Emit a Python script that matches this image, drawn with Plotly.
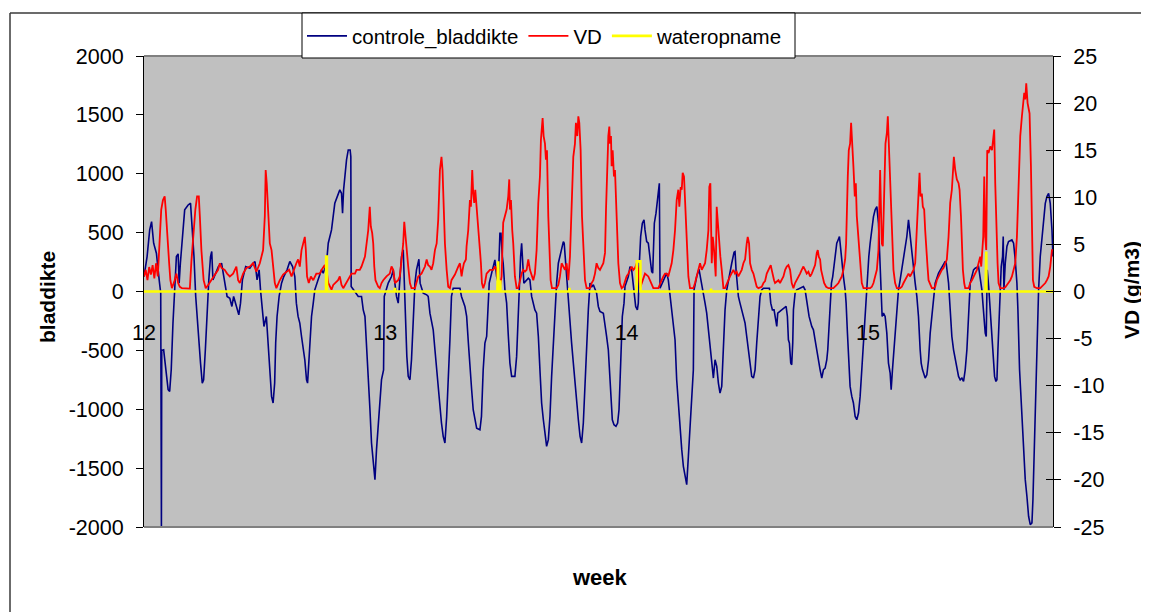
import plotly.graph_objects as go

# ---------------- data ----------------
week_labels = ["12", "13", "14", "15"]
week_tick_day = [0, 7, 14, 21]
left_ticks = [-2000, -1500, -1000, -500, 0, 500, 1000, 1500, 2000]
right_ticks = [-25, -20, -15, -10, -5, 0, 5, 10, 15, 20, 25]

# controle_bladdikte (left axis), time in days since start of week 12
t_blad = [
    0.0, 0.09, 0.165, 0.22, 0.28, 0.36, 0.44, 0.485, 0.505, 0.515, 0.57, 0.63, 0.70, 0.745, 0.79, 0.84, 0.89, 0.94, 0.99, 1.02,
    1.055, 1.11, 1.18, 1.28, 1.35, 1.40, 1.45, 1.50, 1.57, 1.64, 1.69, 1.73, 1.78, 1.83, 1.88, 1.93, 1.965, 2.0, 2.08, 2.16,
    2.25, 2.34, 2.41, 2.49, 2.55, 2.60, 2.68, 2.75, 2.80, 2.855, 2.95, 3.07, 3.165, 3.22, 3.28, 3.34, 3.38, 3.44, 3.48, 3.55,
    3.60, 3.65, 3.70, 3.745, 3.79, 3.82, 3.86, 3.92, 3.99, 4.055, 4.15, 4.23, 4.31, 4.375, 4.42, 4.47,
    4.52, 4.57, 4.62, 4.665, 4.715, 4.745, 4.78, 4.81, 4.86, 4.91, 4.955, 5.05, 5.15, 5.2, 5.295, 5.345, 5.44, 5.535, 5.63, 5.68,
    5.73, 5.76, 5.79, 5.825, 5.875, 5.925, 5.98, 6.0, 6.01, 6.115, 6.215, 6.31, 6.36, 6.41, 6.455, 6.505, 6.555, 6.6, 6.65, 6.7,
    6.745, 6.795, 6.84, 6.89, 6.95, 6.97, 7.085, 7.18, 7.23, 7.28, 7.325, 7.375, 7.42, 7.47, 7.52, 7.55, 7.59, 7.625, 7.665, 7.715,
    7.76, 7.81, 7.86, 7.905, 7.975, 8.01, 8.1, 8.2, 8.245, 8.295, 8.34, 8.39, 8.44, 8.49, 8.535, 8.585, 8.63, 8.68, 8.73, 8.78,
    8.825, 8.875, 8.92, 8.97,
    9.165, 9.21, 9.31, 9.36, 9.41, 9.455, 9.505, 9.55, 9.6, 9.65, 9.745, 9.79, 9.84, 9.89, 9.94, 9.985, 10.015, 10.085, 10.18, 10.23,
    10.277, 10.325, 10.355, 10.395, 10.42, 10.47, 10.52, 10.57, 10.615, 10.665, 10.76, 10.81, 10.858, 10.885, 10.925, 10.955, 10.985, 11.02, 11.15, 11.195,
    11.245, 11.34, 11.39, 11.44, 11.486, 11.535, 11.585, 11.63, 11.68, 11.73, 11.777, 11.825, 11.874, 11.92, 11.97, 12.02, 12.115, 12.165, 12.19, 12.23,
    12.26, 12.31, 12.357, 12.405, 12.455, 12.5, 12.55, 12.6, 12.65, 12.696, 12.745, 12.793, 12.84, 12.89, 12.938, 12.985, 13.035, 13.13, 13.18, 13.228,
    13.325, 13.374, 13.42,
    13.47, 13.518, 13.547, 13.586, 13.634, 13.692, 13.74, 13.78, 13.808, 13.837, 13.876, 13.925, 13.953, 14.05, 14.099, 14.147, 14.196, 14.225, 14.263, 14.312,
    14.34, 14.37, 14.408, 14.457, 14.505, 14.534, 14.583, 14.63, 14.68, 14.727, 14.757, 14.805, 14.853, 14.892, 14.93, 14.95, 14.97, 15.066, 15.163, 15.21,
    15.26, 15.308, 15.357, 15.405, 15.453, 15.5, 15.55, 15.6, 15.647, 15.695, 15.744, 15.792, 15.84, 15.89, 15.937, 15.957, 16.034, 16.1, 16.18, 16.227,
    16.276, 16.324, 16.373, 16.42, 16.47, 16.518, 16.566, 16.615, 16.663, 16.71, 16.76, 16.808, 16.856, 16.905, 16.953, 17.05, 17.118, 17.146, 17.175, 17.214,
    17.243, 17.29, 17.34, 17.388, 17.437, 17.485, 17.534, 17.582, 17.63, 17.679, 17.727, 17.775, 17.824, 17.872, 17.92,
    17.97, 18.143, 18.182, 18.23, 18.278, 18.356, 18.385, 18.5, 18.627, 18.665, 18.694, 18.723, 18.762, 18.79, 18.82, 18.84, 18.888, 18.936, 19.08, 19.13,
    19.178, 19.207, 19.246, 19.294, 19.372, 19.42, 19.468, 19.517, 19.565, 19.614, 19.662, 19.71, 19.759, 19.807, 19.836, 19.875, 19.904, 19.943, 19.98, 20.02,
    20.059, 20.097, 20.136, 20.175, 20.214, 20.252, 20.29, 20.34, 20.368, 20.407, 20.446, 20.484, 20.533, 20.58, 20.63, 20.678, 20.727, 20.775, 20.823, 20.872,
    20.92, 20.95, 20.988, 21.027, 21.065, 21.114, 21.162, 21.21, 21.26, 21.307, 21.336, 21.375, 21.413, 21.452, 21.5, 21.549, 21.597, 21.646, 21.675, 21.713,
    21.742, 21.79, 21.84, 21.887, 21.936, 21.984, 22.033, 22.08, 22.13, 22.178, 22.226, 22.274, 22.323, 22.372, 22.42, 22.468, 22.516,
    22.546, 22.585, 22.662, 22.71, 22.76, 22.807, 22.856, 22.904, 22.952, 23.05, 23.146, 23.243, 23.272, 23.31, 23.34, 23.388, 23.436, 23.485, 23.533, 23.58,
    23.63, 23.678, 23.727, 23.775, 23.823, 23.872, 23.92, 23.968, 24.065, 24.114, 24.21, 24.259, 24.307, 24.336, 24.365, 24.404, 24.433, 24.462, 24.48, 24.51,
    24.55, 24.578, 24.617, 24.646, 24.675, 24.714, 24.743, 24.772, 24.81, 24.84, 24.868, 24.907, 24.926, 24.946, 24.985, 25.033, 25.08, 25.178, 25.226, 25.275,
    25.323, 25.352, 25.372, 25.4, 25.43, 25.468, 25.497, 25.536, 25.565, 25.613, 25.662, 25.71, 25.759, 25.788, 25.826, 25.855, 25.884, 25.923, 25.952, 26.0,
    26.049, 26.097, 26.146, 26.194, 26.243, 26.29, 26.34, 26.368,
]
controle_bladdikte = [
    127, 297, 523, 594, 410, 325, 99, -14, -2000, -500, -495, -665, -834, -848, -665, -269, 71, 297, 320, 71,
    240, 410, 693, 735, 750, 523, 297, -42, -354, -608, -778, -750, -495, -156, 99, 297, 340, 99, 156, 212,
    240, 99, -42, -57, -127, -42, -127, -198, -99, 99, 212, 198, 240, 255, 99, 184, 14, -184, -297, -212,
    -438, -665, -891, -947, -778, -438, -212, -42, 71, 127, 184, 255, 212, 127, -99, -212,
    -269, -382, -495, -580, -750, -778, -608, -410, -212, -99, 14, 99, 184, 156, 240, 410, 523, 749, 834, 863,
    834, 665, 863, 976, 1117, 1202, 1202, 1145, 42, 0, -42, -42, -156, -212, -438, -665, -1004, -1287, -1456, -1598,
    -1343, -1117, -891, -749, -665, -42, 71, 127, 184, 71, -42, -99, 71, 297, 354, 71, -269, -551, -721, -750,
    -580, -269, 71, 184, 274, 71, -14, -28, -42, -184, -240, -325, -495, -665, -778, -919, -1117, -1230, -1287, -1061,
    -778, -410, -42, 28,
    28, -42, -127, -212, -438, -665, -834, -1004, -1089, -1160, -1174, -1061, -665, -438, -382, -99, 71, 156, 269, 127,
    71, 495, 495, 297, 240, 14, -99, -382, -608, -721, -721, -551, -156, 71, 297, 410, 212, 71, 113, 99,
    -42, -156, -184, -382, -665, -947, -1089, -1202, -1315, -1258, -1061, -721, -438, -156, 71, 240, 382, 424, 410, 240,
    127, -42, -269, -438, -608, -778, -947, -1089, -1230, -1287, -1117, -778, -438, -156, 71, 37, 57, -14, -127, -170,
    -184, -269, -382,
    -495, -778, -947, -1089, -1131, -1145, -1117, -1004, -778, -438, -212, -99, 42, 127, 212, 184, 71, -42, -127, -156,
    -99, 240, 467, 580, 608, 523, 424, 410, 297, 170, 156, 580, 665, 778, 919, 919, 28, 99, 156, 99,
    -42, -184, -269, -410, -749, -947, -1174, -1343, -1485, -1570, -1640, -1400, -1117, -891, -665, 14, 127, 190, 71, -14,
    -99, -184, -325, -438, -608, -735, -580, -636, -778, -863, -806, -495, -156, 14, 99, 240, 334, 339, 184, 14,
    -42, -99, -156, -212, -269, -382, -495, -636, -721, -735, -665, -438, -212, -42, 14,
    28, 28, -99, -156, -156, -297, -184, -156, -127, -212, -410, -438, -608, -622, -438, -156, -14, 14, 37, 42,
    14, -42, -127, -212, -297, -325, -410, -495, -608, -665, -735, -665, -650, -580, -495, -269, -99, 71, 127, 240,
    325, 410, 438, 467, 354, 212, 127, 14, -99, -354, -636, -806, -891, -947, -1061, -1089, -1032, -891, -665, -438,
    -156, 14, 184, 297, 410, 523, 636, 693, 721, 580, 354, 14, -212, -184, -212, -354, -608, -693, -834, -665,
    -551, -382, -156, 14, 99, 184, 297, 382, 467, 608, 467, 297, 184, 71, -42, -212, -495,
    -608, -665, -735, -707, -580, -354, -212, -14, 71, 156, 212, 255, 240, 127, 71, -156, -382, -495, -580, -665,
    -721, -750, -735, -764, -665, -495, -212, 71, 184, 198, 212, 127, 14, -99, -212, -354, -382, 184, 127, 14,
    -156, -297, -495, -608, -721, -764, -750, -495, -240, 14, 212, 297, 467, 14, 240, 382, 424, 438, 410, 269,
    71, -156, -438, -665, -834, -1061, -1230, -1456, -1598, -1739, -1909, -1980, -1965, -1767, -1343, -1061, -834, -495, 14, 297,
    467, 636, 749, 806, 834, 749, 523, 297,
]

# VD in g/m3 (right axis)
t_vd = [
    0.0, 0.05, 0.1, 0.15, 0.2, 0.25, 0.3, 0.35, 0.4, 0.44, 0.5, 0.55, 0.6, 0.63, 0.67, 0.73, 0.765, 0.81, 0.89, 0.94,
    0.99, 1.04, 1.1, 1.33, 1.375, 1.44, 1.49, 1.54, 1.59, 1.62, 1.665, 1.73, 1.79, 1.86, 1.955, 2.05, 2.15, 2.2, 2.25, 2.34,
    2.41, 2.49, 2.585, 2.68, 2.73, 2.78, 2.875, 2.97, 3.07, 3.165, 3.26, 3.36, 3.41, 3.455, 3.505, 3.53, 3.56, 3.6, 3.65, 3.7,
    3.745, 3.795, 3.84, 3.94, 4.035, 4.13, 4.21, 4.28, 4.345,
    4.42, 4.47, 4.52, 4.57, 4.615, 4.665, 4.695, 4.73, 4.78, 4.84, 4.91, 5.0, 5.1, 5.15, 5.245, 5.295, 5.345, 5.44, 5.49, 5.63,
    5.68, 5.73, 5.78, 5.92, 6.02, 6.12, 6.165, 6.26, 6.31, 6.41, 6.455, 6.505, 6.55, 6.58, 6.62, 6.65, 6.68, 6.715, 6.795, 6.84,
    6.89, 6.94, 7.035, 7.13, 7.18, 7.23, 7.28, 7.375, 7.42, 7.47, 7.52, 7.55, 7.59, 7.615, 7.665, 7.715, 7.76, 7.86, 7.905, 7.955,
    8.05, 8.15, 8.2, 8.245, 8.295, 8.34, 8.39, 8.44, 8.49, 8.535, 8.585, 8.63, 8.66, 8.7, 8.73, 8.78, 8.825, 8.875, 8.92, 9.02,
    9.068, 9.116, 9.165, 9.213, 9.242, 9.28, 9.338, 9.358, 9.406, 9.455, 9.484, 9.522, 9.551, 9.58, 9.61, 9.648, 9.696, 9.745, 9.774, 9.803,
    9.842, 9.89, 9.938, 9.987, 10.035, 10.13, 10.18, 10.23, 10.277, 10.325, 10.374, 10.42, 10.47, 10.52, 10.567, 10.596, 10.616, 10.645, 10.683, 10.712,
    10.76, 10.81, 10.858, 10.906, 10.955, 11.0, 11.05, 11.1, 11.148, 11.196, 11.245, 11.293, 11.34, 11.39, 11.438, 11.486, 11.515, 11.544, 11.564, 11.593,
    11.632, 11.66, 11.69, 11.728, 11.757, 11.796, 11.835, 11.97, 12.02, 12.067, 12.116, 12.164, 12.212, 12.26, 12.31, 12.357, 12.405, 12.454, 12.502, 12.53,
    12.57, 12.6, 12.628, 12.667, 12.706, 12.744, 12.793, 12.84, 12.938, 12.986, 13.035, 13.083, 13.13, 13.18, 13.228, 13.325, 13.374, 13.403, 13.44,
    13.47, 13.499, 13.518, 13.547, 13.566, 13.596, 13.634, 13.663, 13.692, 13.73, 13.76, 13.808, 13.857, 13.905, 13.953, 14.0, 14.05, 14.099, 14.147, 14.196,
    14.244, 14.292, 14.34, 14.389, 14.437, 14.486, 14.534, 14.63, 14.68, 14.727, 14.776, 14.921, 14.97, 15.018, 15.066, 15.115, 15.163, 15.21, 15.26, 15.308,
    15.357, 15.405, 15.453, 15.5, 15.53, 15.57, 15.6, 15.627, 15.666, 15.695, 15.724, 15.763, 15.792, 15.84, 15.937, 15.985, 16.034, 16.082, 16.13, 16.18,
    16.227, 16.276, 16.324, 16.373, 16.4, 16.43, 16.47, 16.5, 16.537, 16.585, 16.614, 16.643, 16.683, 16.72, 16.76, 16.808, 16.856, 16.905, 16.953, 17.0,
    17.05, 17.098, 17.146, 17.195, 17.243, 17.29, 17.34, 17.388, 17.437, 17.485, 17.514, 17.553, 17.582, 17.63, 17.679, 17.727, 17.775, 17.824, 17.92, 17.97,
    18.017,
    18.066, 18.114, 18.143, 18.182, 18.21, 18.24, 18.278, 18.307, 18.356, 18.405, 18.45, 18.5, 18.55, 18.6, 18.646, 18.694, 18.743, 18.79, 18.84, 18.888,
    18.936, 18.985, 19.033, 19.08, 19.13, 19.178, 19.227, 19.275, 19.323, 19.372, 19.42, 19.468, 19.517, 19.546, 19.575, 19.614, 19.643, 19.69, 19.73, 19.788,
    19.855, 20.0, 20.05, 20.097, 20.146, 20.194, 20.243, 20.29, 20.34, 20.368, 20.388, 20.417, 20.446, 20.484, 20.513, 20.543, 20.58, 20.62, 20.65, 20.678,
    20.707, 20.736, 20.775, 20.823, 20.872, 21.065, 21.114, 21.162, 21.21, 21.26, 21.307, 21.336, 21.355, 21.384, 21.404, 21.433, 21.452, 21.48, 21.51, 21.55,
    21.578, 21.607, 21.646, 21.675, 21.713, 21.742, 21.79, 21.84, 21.936, 21.984, 22.033, 22.08, 22.13, 22.178, 22.226, 22.274, 22.323, 22.372, 22.42, 22.468,
    22.498, 22.527, 22.565, 22.594, 22.633, 22.662, 22.69, 22.73, 22.759, 22.807, 22.856, 22.904, 22.952, 23.0, 23.05, 23.098, 23.146, 23.194, 23.243, 23.29,
    23.34, 23.388, 23.436, 23.465, 23.494, 23.533, 23.58, 23.63, 23.66, 23.7, 23.727, 23.756, 23.794, 23.823, 23.92, 23.968, 24.017, 24.065, 24.114, 24.162,
    24.21, 24.259, 24.288, 24.317, 24.346, 24.375, 24.404, 24.433, 24.462, 24.5, 24.55, 24.6, 24.626, 24.665, 24.694, 24.723, 24.762, 24.79, 24.84, 24.936,
    24.985, 25.033, 25.08, 25.13, 25.178, 25.226, 25.275, 25.323, 25.372, 25.42, 25.468, 25.497, 25.536, 25.565, 25.594, 25.633, 25.662, 25.69, 25.73, 25.759,
    25.788, 25.826, 25.903, 26.0, 26.049, 26.097, 26.146, 26.194, 26.243, 26.29, 26.34, 26.368,
]
vd = [
    1.6, 2.3, 1.2, 2.6, 1.8, 2.8, 1.4, 3.0, 1.6, 4.4, 8.7, 9.7, 10.1, 8.7, 5.8, 3.0, 1.2, 0.35, 1.2, 1.9,
    0.9, 0.5, 0.35, 0.3, 3.2, 6.5, 8.7, 10.1, 10.1, 8.0, 4.4, 1.2, 0.35, 0.7, 1.2, 1.8, 2.3, 3.0, 2.5, 2.3,
    1.9, 1.6, 1.9, 2.65, 1.2, 0.9, 1.9, 2.5, 2.65, 3.0, 2.1, 3.0, 3.7, 4.4, 8.0, 12.9, 11.5, 8.0, 5.1, 4.4,
    3.0, 0.9, 0.35, 1.2, 1.8, 2.1, 2.3, 1.6, 2.3,
    3.0, 3.4, 2.65, 4.4, 5.1, 5.8, 4.4, 1.6, 0.9, 1.6, 1.2, 1.9, 1.9, 2.3, 2.8, 2.3, 0.9, 0.2, 0.7, 1.2,
    1.6, 0.7, 0.35, 1.2, 1.9, 1.9, 2.3, 2.3, 2.65, 3.7, 4.8, 6.5, 9.0, 6.9, 6.2, 5.1, 2.65, 1.2, 0.5, 0.35,
    0.9, 1.2, 1.6, 1.9, 2.65, 2.3, 0.9, 1.2, 1.6, 3.7, 5.1, 7.4, 5.5, 4.4, 2.65, 0.9, 0.35, 0.35, 0.9, 1.6,
    1.9, 2.65, 3.4, 2.8, 2.65, 2.3, 3.0, 4.4, 5.1, 7.6, 12.9, 14.3, 12.9, 8.3, 5.1, 2.3, 0.5, 0.35, 1.2, 1.8,
    2.3, 2.65, 3.0, 1.6, 2.3, 3.0, 3.4, 4.8, 6.5, 9.7, 9.0, 12.9, 10.4, 9.4, 10.8, 8.7, 6.9, 4.4, 3.0, 0.9,
    0.35, 0.9, 1.9, 2.1, 2.3, 2.3, 2.65, 2.3, 0.9, 0.5, 1.6, 7.3, 8.0, 8.7, 10.1, 11.9, 8.7, 9.7, 6.5, 5.1,
    1.6, 0.35, 0.35, 1.2, 1.9, 2.3, 2.1, 2.3, 3.4, 2.3, 1.6, 1.2, 1.9, 4.4, 9.4, 12.2, 16.1, 17.2, 18.4, 16.5,
    15.7, 14.0, 15.0, 8.0, 4.4, 1.2, 0.35, 0.35, 0.7, 1.6, 3.0, 2.65, 2.3, 3.0, 1.2, 3.7, 8.0, 14.3, 15.7, 17.9,
    16.5, 18.6, 17.9, 15.0, 8.0, 4.4, 1.2, 0.35, 0.35, 0.9, 1.2, 1.9, 3.0, 2.5, 2.3, 3.0, 4.1, 8.7, 15.0,
    16.5, 17.5, 15.7, 16.5, 13.3, 15.0, 12.2, 12.9, 9.7, 7.3, 3.0, 0.9, 0.35, 0.5, 1.2, 1.6, 1.9, 2.3, 2.65, 2.3,
    2.5, 3.0, 2.3, 0.35, 0.9, 1.6, 1.9, 1.6, 1.2, 0.9, 0.35, 0.35, 0.9, 1.2, 1.6, 1.9, 1.9, 1.6, 2.3, 3.0,
    4.4, 6.5, 9.7, 10.8, 9.0, 11.1, 10.8, 12.6, 12.2, 9.7, 6.5, 3.7, 1.6, 0.35, 0.35, 0.9, 1.6, 2.3, 3.0, 2.3,
    2.65, 3.0, 4.4, 6.5, 11.1, 11.5, 3.0, 5.8, 4.4, 1.6, 9.0, 7.3, 5.8, 3.7, 2.3, 0.35, 0.35, 0.9, 1.2, 1.6,
    1.9, 2.3, 1.9, 2.1, 1.6, 1.9, 2.3, 3.0, 3.4, 5.1, 5.8, 5.1, 3.0, 2.3, 1.9, 1.2, 0.5, 0.35, 0.5, 0.9,
    1.1,
    1.9, 2.3, 2.65, 2.8, 2.3, 1.6, 1.2, 0.9, 1.1, 1.2, 0.9, 1.2, 1.6, 2.3, 2.65, 2.8, 2.3, 0.9, 0.35, 0.9,
    1.2, 1.6, 1.9, 2.3, 2.65, 2.3, 1.9, 2.1, 1.6, 1.9, 2.3, 2.8, 4.1, 4.4, 3.7, 3.4, 2.3, 1.6, 0.9, 0.5,
    0.35, 0.35, 0.5, 0.7, 0.9, 1.2, 1.6, 2.3, 3.4, 5.1, 8.7, 12.2, 15.0, 15.7, 17.9, 16.1, 13.3, 10.1, 11.5, 8.0,
    6.5, 5.1, 2.65, 0.9, 0.35, 0.35, 0.5, 0.9, 1.6, 2.3, 4.4, 8.0, 12.9, 8.0, 5.1, 4.8, 8.0, 12.9, 15.7, 16.8,
    18.6, 15.7, 12.2, 8.7, 4.4, 2.3, 0.9, 0.35, 0.35, 0.5, 0.9, 1.2, 1.6, 1.9, 1.6, 1.9, 2.3, 3.0, 7.3, 10.8,
    12.6, 10.1, 10.4, 9.0, 8.7, 6.5, 4.4, 2.65, 1.2, 0.7, 0.35, 0.35, 0.5, 1.2, 1.6, 1.9, 2.3, 2.5, 3.0, 3.4,
    5.8, 9.4, 10.8, 12.2, 14.3, 12.9, 11.9, 11.5, 10.8, 8.0, 4.4, 2.3, 0.9, 0.35, 0.35, 0.9, 1.2, 1.6, 1.9, 2.3,
    3.0, 3.7, 2.65, 4.4, 5.8, 12.2, 5.8, 4.4, 15.0, 14.7, 15.4, 15.0, 16.1, 17.2, 11.5, 6.2, 3.0, 0.9, 0.35, 0.35,
    0.45, 0.7, 0.9, 1.2, 1.6, 2.3, 3.0, 5.8, 10.8, 16.5, 18.6, 20.0, 21.1, 20.4, 22.1, 20.0, 19.3, 18.9, 13.3, 4.4,
    1.2, 0.5, 0.35, 0.35, 0.5, 0.7, 0.9, 1.2, 1.6, 2.65, 4.4, 4.4,
]

# wateropname (drawn against the right axis)
t_water = [0, 5.28, 5.285, 5.305, 5.31, 7.275, 7.28, 7.285, 10.25, 10.255, 10.275, 10.28, 10.33, 10.335, 10.34,
           12.335, 12.34, 12.345, 14.29, 14.295, 14.40, 14.405, 16.445, 16.45, 16.455, 24.41, 24.415, 24.435, 24.44, 26.37]
wateropname = [0, 0, 3.7, 3.7, 0, 0, 0.4, 0, 0, 3.2, 3.2, 0, 0, 1.2, 0,
               0, 0.4, 0, 0, 3.2, 3.2, 0, 0, 0.3, 0, 0, 4.25, 4.25, 0, 0]

assert len(t_blad) == len(controle_bladdikte), (len(t_blad), len(controle_bladdikte))
assert len(t_vd) == len(vd), (len(t_vd), len(vd))
assert len(t_water) == len(wateropname)

# ---------------- figure ----------------
FONT = "Liberation Sans, Arial, sans-serif"
OFF = 8                      # default page margin of the html body
W, H = 1149 - OFF, 612 - OFF
ML, MT = 144 - OFF, 56 - OFF
MR, MB = 96, 85
pw, ph = W - ML - MR, H - MT - MB


def px(x):
    """window pixel x -> paper coordinate"""
    return (x - OFF - ML) / pw


def py(y):
    """window pixel y -> paper coordinate"""
    return (H - MB - (y - OFF)) / ph


fig = go.Figure()
fig.add_trace(go.Scatter(x=t_blad, y=controle_bladdikte, name="controle_bladdikte", mode="lines",
                         line=dict(color="#000080", width=1.6), yaxis="y"))
fig.add_trace(go.Scatter(x=t_vd, y=vd, name="VD", mode="lines",
                         line=dict(color="#FF0000", width=1.8), yaxis="y2"))
fig.add_trace(go.Scatter(x=t_water, y=wateropname, name="wateropname", mode="lines",
                         line=dict(color="#FFFF00", width=2.6), yaxis="y2"))
# empty helper trace so the inner half of the crossing right-axis ticks is drawn
fig.add_trace(go.Scatter(x=[], y=[], yaxis="y3", showlegend=False, hoverinfo="skip"))

tickfont = dict(family=FONT, size=21.5, color="black")
fig.update_layout(
    width=W, height=H, autosize=False,
    margin=dict(l=ML, r=MR, t=MT, b=MB, pad=0, autoexpand=False),
    paper_bgcolor="white", plot_bgcolor="#C0C0C0",
    font=dict(family=FONT, size=20, color="black"),
    showlegend=True,
    legend=dict(orientation="h", x=px(302), y=py(36), xanchor="left", yanchor="middle",
                bgcolor="rgba(0,0,0,0)", borderwidth=0, itemwidth=40,
                font=dict(family=FONT, size=20.5, color="black"), traceorder="normal"),
    xaxis=dict(range=[0, 26.37], tickvals=week_tick_day, ticktext=week_labels,
               showgrid=False, zeroline=False, showline=False, ticks="",
               anchor="free", position=0.5, ticklabelstandoff=26, automargin=False,
               tickfont=tickfont),
    yaxis=dict(range=[-2000, 2000], tickvals=left_ticks, ticktext=[str(v) for v in left_ticks],
               showgrid=False, zeroline=False, automargin=False,
               showline=True, linecolor="black", linewidth=1, ticks="outside", ticklen=7,
               tickcolor="black", ticklabelstandoff=8, tickfont=tickfont),
    yaxis2=dict(range=[-25, 25], tickvals=right_ticks, ticktext=[str(v) for v in right_ticks],
                overlaying="y", side="right", automargin=False,
                showgrid=False, zeroline=False, showline=True, linecolor="black", linewidth=1,
                ticks="outside", ticklen=7, tickcolor="black", ticklabelstandoff=8,
                tickfont=tickfont),
    yaxis3=dict(range=[-25, 25], tickvals=right_ticks, overlaying="y", side="right", anchor="x",
                showgrid=False, zeroline=False, showline=False, ticks="inside", ticklen=7,
                tickcolor="black", showticklabels=False, automargin=False),
)

# outer frame (left and top edges visible), grey plot-area edges, legend box
shapes = [
    dict(type="line", xref="paper", yref="paper", x0=px(10), x1=px(1160), y0=py(13), y1=py(13),
         line=dict(color="#3a3a3a", width=1.5)),
    dict(type="line", xref="paper", yref="paper", x0=px(10), x1=px(10), y0=py(13), y1=py(630),
         line=dict(color="#3a3a3a", width=1.5)),
    dict(type="line", xref="paper", yref="paper", x0=0, x1=1, y0=1, y1=1,
         line=dict(color="#808080", width=2)),
    dict(type="line", xref="paper", yref="paper", x0=0, x1=1, y0=0, y1=0,
         line=dict(color="#808080", width=2)),
    dict(type="rect", xref="paper", yref="paper", x0=px(302), x1=px(795), y0=py(58), y1=py(13),
         fillcolor="white", line=dict(color="black", width=1)),
]
fig.update_layout(shapes=shapes)

fig.add_annotation(text="bladdikte", xref="paper", yref="paper", x=px(47), y=py(297),
                   showarrow=False, textangle=-90, xanchor="center", yanchor="middle",
                   font=dict(family=FONT, size=21, color="black", weight="bold"))
fig.add_annotation(text="VD (g/m3)", xref="paper", yref="paper", x=px(1131), y=py(290),
                   showarrow=False, textangle=-90, xanchor="center", yanchor="middle",
                   font=dict(family=FONT, size=21, color="black", weight="bold"))
fig.add_annotation(text="week", xref="paper", yref="paper", x=px(600), y=py(577),
                   showarrow=False, xanchor="center", yanchor="middle",
                   font=dict(family=FONT, size=22, color="black", weight="bold"))

fig.write_html("out.html")
